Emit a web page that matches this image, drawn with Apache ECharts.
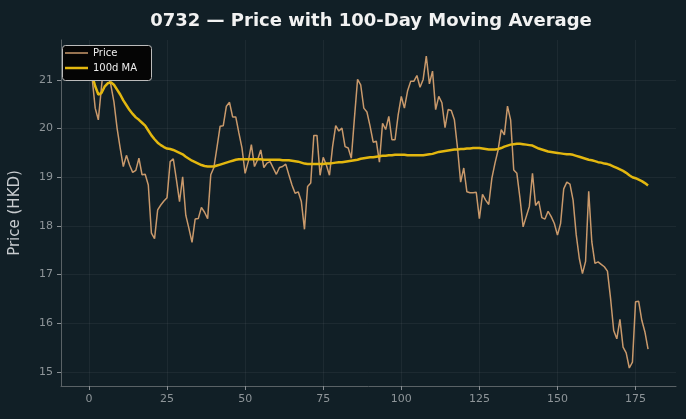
<!DOCTYPE html>
<html>
<head>
<meta charset="utf-8">
<script src="https://cdn.jsdelivr.net/npm/echarts@6/dist/echarts.min.js"></script>
<style>
  html, body { margin: 0; padding: 0; background: #111f26; }
  #chart { width: 686px; height: 419px; }
</style>
</head>
<body>
<div id="chart"></div>
<script>
// daily close (index = trading day)
const price = [
  21.15, 21.05, 20.42, 20.18, 20.85, 21.49, 21.10, 20.90, 20.55, 20.01,
  19.60, 19.22, 19.45, 19.25, 19.10, 19.14, 19.39, 19.05, 19.06, 18.84,
  17.85, 17.74, 18.33, 18.43, 18.51, 18.58, 19.32, 19.38, 18.95, 18.50,
  19.01, 18.22, 17.95, 17.66, 18.14, 18.15, 18.38, 18.28, 18.15, 19.05,
  19.20, 19.62, 20.05, 20.06, 20.46, 20.54, 20.24, 20.24, 19.91, 19.60,
  19.08, 19.32, 19.67, 19.22, 19.36, 19.56, 19.20, 19.29, 19.32, 19.19,
  19.06, 19.20, 19.22, 19.27, 19.05, 18.84, 18.67, 18.70, 18.50, 17.93,
  18.81, 18.88, 19.86, 19.86, 19.04, 19.41, 19.25, 19.04, 19.63, 20.06,
  19.95, 20.01, 19.63, 19.60, 19.39, 20.22, 21.01, 20.90, 20.42, 20.34,
  20.05, 19.72, 19.74, 19.31, 20.11, 19.98, 20.25, 19.77, 19.77, 20.28,
  20.66, 20.42, 20.77, 20.97, 20.97, 21.09, 20.85, 21.01, 21.49, 20.92,
  21.18, 20.39, 20.66, 20.53, 20.02, 20.39, 20.37, 20.18, 19.60, 18.90,
  19.19, 18.70, 18.68, 18.68, 18.69, 18.15, 18.65, 18.53, 18.44, 18.98,
  19.29, 19.56, 19.98, 19.87, 20.46, 20.18, 19.15, 19.08, 18.57, 17.98,
  18.19, 18.40, 19.08, 18.42, 18.51, 18.17, 18.14, 18.30, 18.19, 18.05,
  17.81, 18.05, 18.76, 18.90, 18.86, 18.53, 17.82, 17.33, 17.02, 17.27,
  18.71, 17.67, 17.23, 17.26, 17.21, 17.16, 17.07, 16.51, 15.85, 15.68,
  16.08, 15.51, 15.39, 15.08, 15.20, 16.44, 16.45, 16.06, 15.82, 15.47
];

// 100-day moving average as drawn in the reference
const ma100 = [
  21.15, 21.10, 20.87, 20.70, 20.73, 20.86, 20.93, 20.95, 20.90, 20.80,
  20.70, 20.58, 20.48, 20.38, 20.30, 20.23, 20.18, 20.12, 20.06, 19.96,
  19.86, 19.78, 19.71, 19.66, 19.62, 19.59, 19.58, 19.56, 19.53, 19.50,
  19.47, 19.42, 19.38, 19.34, 19.31, 19.28, 19.25, 19.23, 19.22, 19.22,
  19.22, 19.24, 19.26, 19.28, 19.30, 19.32, 19.34, 19.36, 19.37, 19.37,
  19.37, 19.37, 19.37, 19.37, 19.37, 19.37, 19.36, 19.36, 19.36, 19.36,
  19.36, 19.36, 19.35, 19.35, 19.35, 19.34, 19.33, 19.32, 19.30, 19.28,
  19.27, 19.27, 19.27, 19.27, 19.27, 19.27, 19.28, 19.28, 19.29, 19.30,
  19.31, 19.31, 19.32, 19.33, 19.34, 19.35, 19.36, 19.38, 19.39, 19.40,
  19.41, 19.41, 19.42, 19.43, 19.44, 19.44, 19.45, 19.45, 19.46, 19.46,
  19.46, 19.46, 19.45, 19.45, 19.45, 19.45, 19.45, 19.45, 19.46, 19.47,
  19.48, 19.50, 19.52, 19.53, 19.54, 19.55, 19.56, 19.57, 19.57, 19.58,
  19.58, 19.59, 19.59, 19.60, 19.60, 19.60, 19.59, 19.58, 19.57, 19.57,
  19.57, 19.58, 19.60, 19.63, 19.65, 19.67, 19.68, 19.69, 19.69, 19.68,
  19.67, 19.66, 19.65, 19.62, 19.59, 19.57, 19.55, 19.53, 19.52, 19.51,
  19.50, 19.49, 19.48, 19.47, 19.47, 19.46, 19.44, 19.42, 19.40, 19.38,
  19.36, 19.35, 19.33, 19.31, 19.30, 19.28, 19.27, 19.25, 19.22, 19.19,
  19.16, 19.13, 19.09, 19.04, 19.00, 18.98, 18.95, 18.92, 18.88, 18.83
];

const xTicks = [0, 25, 50, 75, 100, 125, 150, 175];
const yTicks = [15, 16, 17, 18, 19, 20, 21];

const PRICE_COLOR = '#c9996b';
const MA_COLOR = '#e3b70f';

const pricePts = price.map((v, i) => [i, v]);
const maPts = ma100.map((v, i) => [i, v]);

const gridLine = { show: true, lineStyle: { color: 'rgba(255,255,255,0.05)', width: 1 } };
const font = 'DejaVu Sans';

// legend: one box drawn as graphic, two legends inside so each icon keeps its own thickness
const legendText = { color: '#eeeeee', fontFamily: font, fontSize: 10 };

const chart = echarts.init(document.getElementById('chart'), null, { renderer: 'canvas' });
chart.setOption({
  backgroundColor: '#111f26',
  animation: false,
  title: {
    text: '0732 \u2014 Price with 100-Day Moving Average',
    left: 366,
    top: 7,
    textAlign: 'center',
    textStyle: { color: '#f2f2f2', fontFamily: font, fontWeight: 'bold', fontSize: 18 }
  },
  grid: { left: 56, right: 10, top: 40, bottom: 33 },
  graphic: [{
    type: 'rect',
    left: 62, top: 45,
    shape: { width: 89, height: 35, r: 3 },
    style: { fill: '#050505', stroke: '#bbbbbb', lineWidth: 1 },
    z: 100
  }],
  legend: [
    {
      left: 65, top: 48,
      data: ['Price'],
      icon: 'rect',
      itemWidth: 23, itemHeight: 1.5,
      itemGap: 9,
      padding: 0,
      textStyle: legendText,
      z: 110
    },
    {
      left: 65, top: 63,
      data: ['100d MA'],
      icon: 'rect',
      itemWidth: 23, itemHeight: 2.5,
      itemGap: 9,
      padding: 0,
      textStyle: legendText,
      z: 110
    }
  ],
  xAxis: {
    type: 'value',
    min: -8.95,
    max: 187.95,
    axisLine: { show: true, onZero: false, lineStyle: { color: '#5a6266' } },
    axisTick: { show: true, customValues: xTicks, length: 4, lineStyle: { color: '#8a9094' } },
    axisLabel: { customValues: xTicks, color: '#8e9599', fontFamily: font, fontSize: 11, margin: 8 },
    splitLine: gridLine
  },
  yAxis: {
    type: 'value',
    min: 14.71,
    max: 21.82,
    name: 'Price (HKD)',
    nameLocation: 'middle',
    nameGap: 38,
    nameTextStyle: { color: '#c8cccf', fontFamily: font, fontSize: 15 },
    axisLine: { show: true, onZero: false, lineStyle: { color: '#5a6266' } },
    axisTick: { show: true, customValues: yTicks, length: 4, lineStyle: { color: '#8a9094' } },
    axisLabel: { customValues: yTicks, color: '#8e9599', fontFamily: font, fontSize: 11, margin: 8 },
    splitLine: gridLine
  },
  series: [
    {
      name: 'Price',
      type: 'line',
      data: pricePts,
      symbol: 'none',
      lineStyle: { color: PRICE_COLOR, width: 1.5 },
      itemStyle: { color: PRICE_COLOR },
      z: 2
    },
    {
      name: '100d MA',
      type: 'line',
      data: maPts,
      symbol: 'none',
      lineStyle: { color: MA_COLOR, width: 2.5 },
      itemStyle: { color: MA_COLOR },
      z: 3
    }
  ]
});
</script>
</body>
</html>
